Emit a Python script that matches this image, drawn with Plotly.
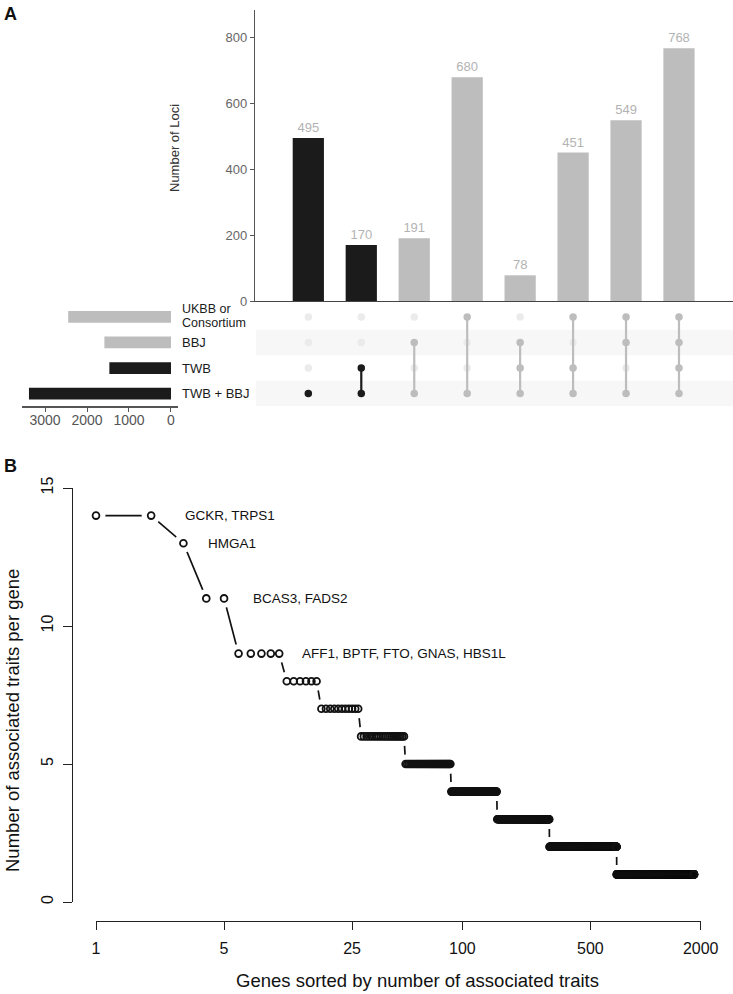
import numpy as np
import plotly.graph_objects as go

W, H = 733, 994
def px(x):
    return x / W
def py(y):
    return 1 - y / H

FONT = "Liberation Sans, Arial, Helvetica, sans-serif"
BLACK = "#1b1b1b"
GREY = "#bdbdbd"
FAINT = "#ebebeb"

# ---------------- Panel A data ----------------
set_names = ["UKBB or Consortium", "BBJ", "TWB", "TWB + BBJ"]
set_sizes = [2448, 1586, 1467, 3382]
set_colors = [GREY, GREY, BLACK, BLACK]
intersection_sizes = [495, 170, 191, 680, 78, 451, 549, 768]
intersection_members = [
    ["TWB + BBJ"],
    ["TWB", "TWB + BBJ"],
    ["BBJ", "TWB + BBJ"],
    ["UKBB or Consortium", "TWB + BBJ"],
    ["BBJ", "TWB", "TWB + BBJ"],
    ["UKBB or Consortium", "TWB", "TWB + BBJ"],
    ["UKBB or Consortium", "BBJ", "TWB + BBJ"],
    ["UKBB or Consortium", "BBJ", "TWB", "TWB + BBJ"],
]
intersection_colors = [BLACK, BLACK, GREY, GREY, GREY, GREY, GREY, GREY]
bar_ticks = [0, 200, 400, 600, 800]
set_ticks = [0, 1000, 2000, 3000]

# ---------------- Panel B data ----------------
trait_levels = [14, 13, 11, 9, 8, 7, 6, 5, 4, 3, 2, 1]
genes_per_level = [2, 1, 2, 5, 6, 11, 21, 38, 68, 144, 397, 1145]
gene_labels = ["GCKR, TRPS1", "HMGA1", "BCAS3, FADS2", "AFF1, BPTF, FTO, GNAS, HBS1L"]
label_levels = [14, 13, 11, 9]
label_rank_pos = [3, 4, 7, 13]
rank_ticks = [1, 5, 25, 100, 500, 2000]
trait_ticks = [0, 5, 10, 15]

row_of = {name: len(set_names) - 1 - i for i, name in enumerate(set_names)}
n_int = len(intersection_sizes)
cols = list(range(n_int))

fig = go.Figure()

# Intersection bars
fig.add_trace(go.Bar(
    x=cols, y=intersection_sizes, marker=dict(color=intersection_colors, line=dict(width=0)),
    width=0.59, text=[str(v) for v in intersection_sizes], textposition="outside",
    textfont=dict(color="#b3b3b3", size=13, family=FONT), constraintext="none",
    cliponaxis=False, xaxis="x", yaxis="y", hoverinfo="skip"))

# Matrix: inactive dots
ix, iy = [], []
for c, mem in zip(cols, intersection_members):
    for name in set_names:
        if name not in mem:
            ix.append(c); iy.append(row_of[name])
fig.add_trace(go.Scatter(x=ix, y=iy, mode="markers",
                         marker=dict(size=7.5, color=FAINT, line=dict(width=0)),
                         xaxis="x2", yaxis="y2", hoverinfo="skip"))
# Matrix: connecting lines and active dots
for color in [GREY, BLACK]:
    lx, ly, dx, dy = [], [], [], []
    for c, mem, col in zip(cols, intersection_members, intersection_colors):
        if col != color:
            continue
        rows = [row_of[m] for m in mem]
        if len(rows) > 1:
            lx += [c, c, None]; ly += [min(rows), max(rows), None]
        for r in rows:
            dx.append(c); dy.append(r)
    fig.add_trace(go.Scatter(x=lx, y=ly, mode="lines", line=dict(color=color, width=2.2),
                             xaxis="x2", yaxis="y2", hoverinfo="skip"))
    fig.add_trace(go.Scatter(x=dx, y=dy, mode="markers",
                             marker=dict(size=7.5, color=color, line=dict(width=0)),
                             xaxis="x2", yaxis="y2", hoverinfo="skip"))

# Set size bars
fig.add_trace(go.Bar(
    x=set_sizes, y=[row_of[n] for n in set_names], orientation="h",
    marker=dict(color=set_colors, line=dict(width=0)), width=0.46,
    xaxis="x3", yaxis="y3", hoverinfo="skip"))

# Panel B
traits = np.repeat(trait_levels, genes_per_level)
ranks = np.arange(1, len(traits) + 1)
fig.add_trace(go.Scatter(x=ranks, y=traits, mode="lines", line=dict(color="#111111", width=1.7),
                         xaxis="x4", yaxis="y4", hoverinfo="skip"))
fig.add_trace(go.Scatter(x=ranks, y=traits, mode="markers",
                         marker=dict(size=19, color="white", line=dict(width=0)),
                         cliponaxis=False, xaxis="x4", yaxis="y4", hoverinfo="skip"))
fig.add_trace(go.Scatter(x=ranks, y=traits, mode="markers",
                         marker=dict(size=6.8, symbol="circle-open", color="#111111",
                                     line=dict(width=1.8, color="#111111")),
                         cliponaxis=False, xaxis="x4", yaxis="y4", hoverinfo="skip"))

# Row stripes
shapes = []
for name in ["BBJ", "TWB + BBJ"]:
    r = row_of[name]
    shapes.append(dict(type="rect", xref="paper", yref="y2", x0=px(256), x1=1,
                       y0=r - 0.5, y1=r + 0.5, fillcolor="#f7f7f7", line=dict(width=0),
                       layer="below"))

ann = []
# set labels
ann.append(dict(text="UKBB or", xref="paper", yref="paper", x=px(180), y=py(309),
                xanchor="left", yanchor="middle", showarrow=False,
                font=dict(size=12.5, color=BLACK, family=FONT)))
ann.append(dict(text="Consortium", xref="paper", yref="paper", x=px(180), y=py(323),
                xanchor="left", yanchor="middle", showarrow=False,
                font=dict(size=12.5, color=BLACK, family=FONT)))
for name in set_names[1:]:
    ann.append(dict(text=name, xref="paper", yref="y2", x=px(180), y=row_of[name],
                    xanchor="left", yanchor="middle", showarrow=False,
                    font=dict(size=13, color=BLACK, family=FONT)))
# titles
ann.append(dict(text="Number of Loci", xref="paper", yref="paper", x=px(175), y=py(148),
                textangle=-90, showarrow=False, xanchor="center", yanchor="middle",
                font=dict(size=13, color="#333333", family=FONT)))
ann.append(dict(text="Number of associated traits per gene", xref="paper", yref="paper",
                x=px(12), y=py(721), textangle=-90, showarrow=False,
                xanchor="center", yanchor="middle",
                font=dict(size=18.5, color="#111111", family=FONT)))
ann.append(dict(text="Genes sorted by number of associated traits", xref="paper", yref="paper",
                x=px(417), y=py(980), showarrow=False, xanchor="center", yanchor="middle",
                font=dict(size=18.5, color="#111111", family=FONT)))
ann.append(dict(text="<b>A</b>", xref="paper", yref="paper", x=px(10), y=py(14),
                showarrow=False, xanchor="center", yanchor="middle",
                font=dict(size=18, color="#111111", family=FONT)))
ann.append(dict(text="<b>B</b>", xref="paper", yref="paper", x=px(10), y=py(466),
                showarrow=False, xanchor="center", yanchor="middle",
                font=dict(size=18, color="#111111", family=FONT)))
# gene labels
for lab, lev, pos in zip(gene_labels, label_levels, label_rank_pos):
    ann.append(dict(text=lab, xref="x4", yref="y4", x=float(np.log10(pos)), y=lev,
                    xanchor="left", yanchor="middle", showarrow=False,
                    font=dict(size=13.5, color="#111111", family=FONT)))

mat_dom = [py(406.3), py(304.2)]
fig.update_layout(
    template="none",
    width=W, height=H, autosize=False, margin=dict(l=0, r=0, t=0, b=0, pad=0),
    paper_bgcolor="white", plot_bgcolor="white", showlegend=False,
    font=dict(family=FONT), shapes=shapes, annotations=ann,
    xaxis=dict(domain=[px(255), 1], range=[-1.007, 8.02], showline=True, linecolor="#444444",
               linewidth=1.2, showticklabels=False, ticks="", showgrid=False, zeroline=False,
               anchor="y", automargin=False),
    yaxis=dict(domain=[py(301), py(10)], range=[0, 884], showline=True, linecolor="#555555",
               linewidth=1.2, ticks="outside", ticklen=4, tickcolor="#555555",
               tickvals=bar_ticks, tickfont=dict(size=13, color="#666666"),
               showgrid=False, zeroline=False, anchor="x", automargin=False),
    xaxis2=dict(domain=[px(255), 1], range=[-1.007, 8.02], visible=False, anchor="y2",
                automargin=False),
    yaxis2=dict(domain=mat_dom, range=[-0.5, 3.5], visible=False, anchor="x2",
                automargin=False),
    xaxis3=dict(domain=[px(21.7), px(178)], range=[3555, -167], showline=True,
                linecolor="#555555", linewidth=1.2, ticks="outside", ticklen=4,
                tickcolor="#555555", tickvals=set_ticks, ticklabelstandoff=-3,
                tickfont=dict(size=14, color="#555555"), showgrid=False, zeroline=False,
                anchor="y3", automargin=False),
    yaxis3=dict(domain=mat_dom, range=[-0.5, 3.5], visible=False, anchor="x3",
                automargin=False),
    xaxis4=dict(type="log", domain=[px(96), px(700.7)], range=[0, np.log10(2000)],
                anchor="free", position=py(920.7), showline=True, linecolor="#222222",
                linewidth=1.2, ticks="outside", ticklen=8, tickcolor="#222222",
                tickvals=rank_ticks, ticktext=[str(v) for v in rank_ticks],
                ticklabelstandoff=5,
                tickfont=dict(size=16, color="#111111"), showgrid=False, zeroline=False,
                automargin=False),
    yaxis4=dict(domain=[py(902), py(488)], range=[0, 15], anchor="free", position=px(72),
                showline=True, linecolor="#222222", linewidth=1.2, ticks="outside",
                ticklen=9, tickcolor="#222222", tickvals=trait_ticks, tickangle=-90,
                ticklabelstandoff=4,
                tickfont=dict(size=16, color="#111111"), showgrid=False, zeroline=False,
                automargin=False),
)

fig.write_html("out.html",
               config={"displayModeBar": False, "staticPlot": True},
               post_script="document.body.style.margin='0';"
                           "document.body.style.padding='0';"
                           "document.body.style.overflow='hidden';")
